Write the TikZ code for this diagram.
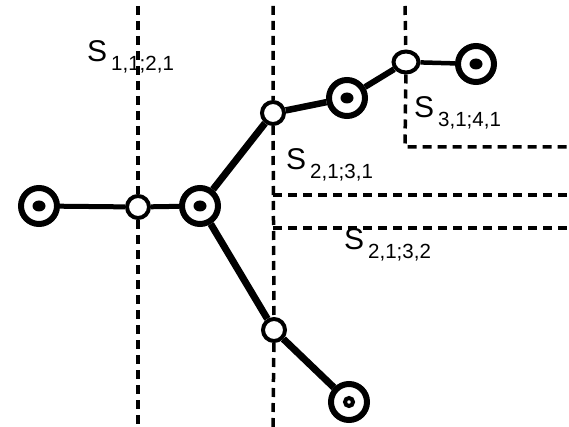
\documentclass[tikz,border=0pt]{standalone}
\usepackage{fontspec}
\setmainfont{Liberation Sans}
\usetikzlibrary{backgrounds,shapes.geometric}
\tikzset{
  bignode/.style={circle, draw, fill=white, line width=6pt, minimum size=36pt, inner sep=0pt,
    path picture={\fill[black] (path picture bounding box.center) ellipse [x radius=6.5pt, y radius=5.5pt];}},
  ringnode/.style={circle, draw, fill=white, line width=6pt, minimum size=36pt, inner sep=0pt,
    path picture={\draw[black, line width=4pt] (path picture bounding box.center) circle [radius=4pt];}},
  smallnode/.style={circle, draw, fill=white, line width=4pt, minimum size=22pt, inner sep=0pt},
  cut/.style={line width=3.5pt, dash pattern=on 9pt off 6pt},
  bond/.style={line width=#1},
  cutlabel/.style={anchor=base west, inner sep=0pt, font=\fontsize{30}{31}\selectfont},
}
\newcommand{\cutname}[1]{S\hspace{4pt}\raisebox{-9pt}{\fontsize{20.5}{21}\selectfont #1}}
\begin{document}
\begin{tikzpicture}[x=1pt, y=-1pt]
  \useasboundingbox (0,0) rectangle (569,427);
  % atoms
  \node[bignode]   (A) at (39,206)  {};
  \node[smallnode] (B) at (138,207) {};
  \node[bignode]   (C) at (200,206) {};
  \node[smallnode] (D) at (273,113) {};
  \node[bignode]   (E) at (347,98)  {};
  \node[smallnode, ellipse, minimum width=25pt, minimum height=21pt] (F) at (406,62) {};
  \node[bignode]   (G) at (476,64)  {};
  \node[smallnode] (H) at (274,330) {};
  \node[ringnode]  (I) at (349,402) {};
  % ends of the cutting lines
  \coordinate (v1t) at (138,6);   \coordinate (v1b) at (138,427);
  \coordinate (v2t) at (273,6);   \coordinate (v2b) at (273,427);
  \coordinate (v3t) at (405,6);   \coordinate (v3c) at (405,147);
  \coordinate (h3e) at (569,147);
  \coordinate (h1s) at (273,195); \coordinate (h1e) at (569,195);
  \coordinate (h2s) at (273,228); \coordinate (h2e) at (569,228);
  \begin{scope}[on background layer]
    \draw[cut] (v1t) -- (B) -- (v1b);
    \draw[cut] (v2t) -- (D) -- (H) -- (v2b);
    \draw[cut] (v3t) -- (F) -- (v3c) -- (h3e);
    \draw[cut] (h1s) -- (h1e);
    \draw[cut] (h2s) -- (h2e);
    \draw[bond=5pt]   (A) -- (B);
    \draw[bond=5pt]   (B) -- (C);
    \draw[bond=7pt]   (C) -- (D);
    \draw[bond=6.5pt] (D) -- (E);
    \draw[bond=6pt]   (E) -- (F);
    \draw[bond=4.5pt] (F) -- (G);
    \draw[bond=7pt]   (C) -- (H);
    \draw[bond=7pt]   (H) -- (I);
  \end{scope}
  % cut labels
  \node[cutlabel] (s1) at (87,62)  {\cutname{1,1;2,1}};
  \node[cutlabel] (s2) at (414,118) {\cutname{3,1;4,1}};
  \node[cutlabel] (s3) at (286,170) {\cutname{2,1;3,1}};
  \node[cutlabel] (s4) at (344,250) {\cutname{2,1;3,2}};
\end{tikzpicture}
\end{document}
